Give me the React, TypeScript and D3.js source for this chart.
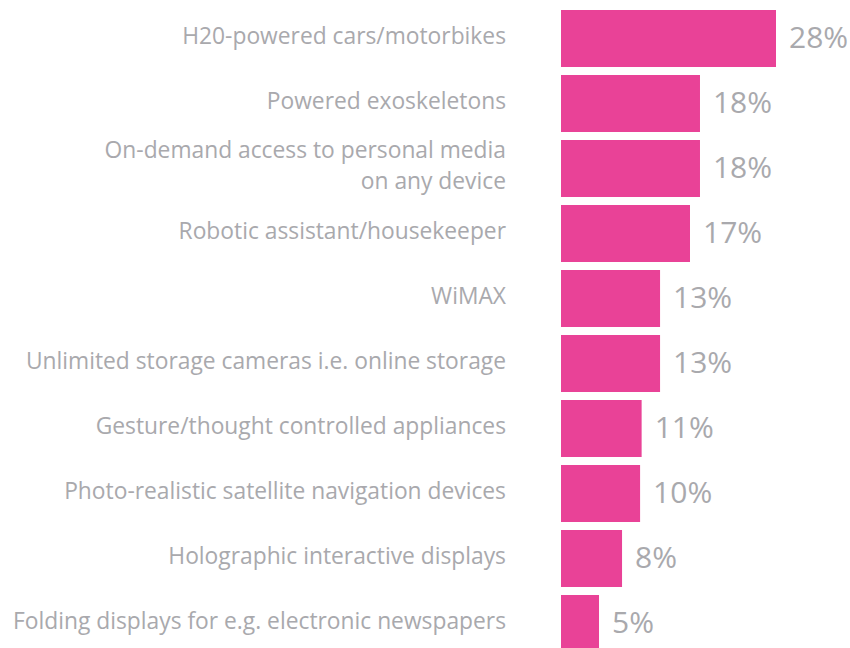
import React from "react";
import * as d3 from "d3";

const categories: string[][] = [
  ["H20-powered cars/motorbikes"],
  ["Powered exoskeletons"],
  ["On-demand access to personal media", "on any device"],
  ["Robotic assistant/housekeeper"],
  ["WiMAX"],
  ["Unlimited storage cameras i.e. online storage"],
  ["Gesture/thought controlled appliances"],
  ["Photo-realistic satellite navigation devices"],
  ["Holographic interactive displays"],
  ["Folding displays for e.g. electronic newspapers"],
];
// bar lengths (percent)
const values: number[] = [28, 18.1, 18.1, 16.8, 12.9, 12.9, 10.5, 10.3, 7.95, 4.95];
// printed labels
const valueLabels: string[] = ["28%", "18%", "18%", "17%", "13%", "13%", "11%", "10%", "8%", "5%"];

const W = 850;
const H = 648;
const BAR_COLOR = "#E94297";
const TEXT_COLOR = "#A9A9AD";
const FONT = "'Open Sans', 'Noto Sans', sans-serif";

export default function App() {
  const x = d3.scaleLinear().domain([0, 28]).range([561, 776]);
  const y = d3
    .scaleBand<number>()
    .domain(d3.range(values.length))
    .range([10, 10 + 65 * values.length - 8])
    .paddingInner(8 / 65)
    .paddingOuter(0);
  const bw = y.bandwidth();
  return (
    <svg
      width={W}
      height={H}
      style={{ position: "absolute", left: 0, top: 0, background: "#fff" }}
    >
      {values.map((v, i) => {
        const y0 = y(i) as number;
        const cy = y0 + bw / 2;
        const lines = categories[i];
        return (
          <g key={i}>
            <rect x={x(0)} y={y0} width={x(v) - x(0)} height={bw} fill={BAR_COLOR} />
            <text
              x={x(v) + 13}
              y={cy + 9.5}
              fontFamily={FONT}
              fontSize={30}
              fill={TEXT_COLOR}
            >
              {valueLabels[i]}
            </text>
            {lines.map((l, j) => (
              <text
                key={j}
                x={506}
                y={cy + 5 + (j - (lines.length - 1) / 2) * 30.5}
                textAnchor="end"
                fontFamily={FONT}
                fontSize={22.8}
                fill={TEXT_COLOR}
              >
                {l}
              </text>
            ))}
          </g>
        );
      })}
    </svg>
  );
}
